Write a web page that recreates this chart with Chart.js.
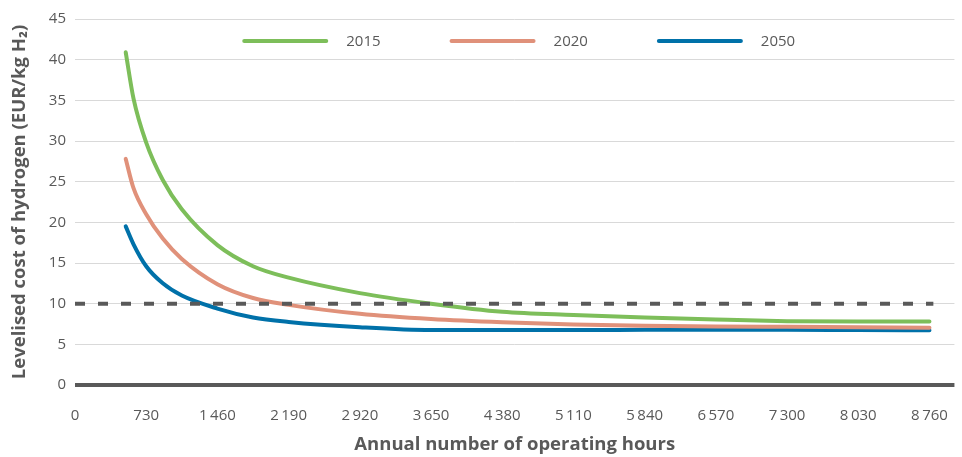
<!DOCTYPE html>
<html>
<head>
<meta charset="utf-8">
<script src="https://cdn.jsdelivr.net/npm/chart.js@4"></script>
<style>
  html, body { margin: 0; padding: 0; background: #fff; }
  #wrap { width: 962px; height: 457px; }
</style>
</head>
<body>
<div id="wrap"><canvas id="chart"></canvas></div>
<script>
// operating hours per year (x) and levelised cost EUR/kg H2 (y)
const hours = [520, 600, 730, 900, 1095, 1460, 1825, 2190, 2920, 3650, 4380, 5110, 5840, 6570, 7300, 8030, 8760];
const cost2015 = [40.9, 35.2, 29.8, 25.2, 21.6, 17.2, 14.6, 13.2, 11.3, 10.0, 9.0, 8.6, 8.3, 8.05, 7.85, 7.8, 7.8];
const cost2020 = [27.8, 24.2, 21.0, 18.0, 15.5, 12.4, 10.7, 9.85, 8.75, 8.1, 7.7, 7.45, 7.3, 7.2, 7.15, 7.1, 7.05];
const cost2050 = [19.5, 17.3, 14.6, 12.5, 11.0, 9.4, 8.3, 7.75, 7.1, 6.75, 6.75, 6.75, 6.78, 6.8, 6.8, 6.75, 6.72];
const seriesLabels = ['2015', '2020', '2050'];
const targetCost = 10;
const targetHours = [0, 8800];
const xTicks = [0, 730, 1460, 2190, 2920, 3650, 4380, 5110, 5840, 6570, 7300, 8030, 8760];
const yTicks = [0, 5, 10, 15, 20, 25, 30, 35, 40, 45];

const colors = ['#7dbe5a', '#e0917a', '#0071a9'];
const grey = '#595959';
const font = "'Open Sans', sans-serif";

const fmt = v => String(v).replace(/\B(?=(\d{3})+(?!\d))/g, '\u2009');
const toPoints = ys => hours.map((h, i) => ({ x: h, y: ys[i] }));

const datasets = [cost2015, cost2020, cost2050].map((ys, i) => ({
  label: seriesLabels[i],
  data: toPoints(ys),
  borderColor: colors[i],
  backgroundColor: colors[i],
  borderWidth: 4,
  pointRadius: 0,
  cubicInterpolationMode: 'monotone',
  borderCapStyle: 'round'
}));

datasets.unshift({
  label: 'target',
  data: targetHours.map(h => ({ x: h, y: targetCost })),
  borderColor: grey,
  borderWidth: 4,
  borderDash: [10, 13],
  pointRadius: 0
});

// legend drawn inside the plot, Excel style
const lineLegend = {
  id: 'lineLegend',
  afterDraw(chart) {
    const ctx = chart.ctx;
    const area = chart.chartArea;
    ctx.save();
    ctx.font = '15px ' + font;
    const lineW = 86, gap = 18, between = 69;
    const items = chart.data.datasets.filter(d => d.label !== 'target');
    let total = 0;
    items.forEach((d, i) => {
      total += lineW + gap + ctx.measureText(d.label).width + (i < items.length - 1 ? between : 0);
    });
    let x = (area.left + area.right) / 2 - total / 2 + 4;
    const y = 41;
    items.forEach(d => {
      ctx.strokeStyle = d.borderColor;
      ctx.lineWidth = 4;
      ctx.lineCap = 'round';
      ctx.beginPath();
      ctx.moveTo(x + 2, y);
      ctx.lineTo(x + lineW - 2, y);
      ctx.stroke();
      x += lineW + gap;
      ctx.fillStyle = grey;
      ctx.textBaseline = 'middle';
      ctx.fillText(d.label, x, y + 1);
      x += ctx.measureText(d.label).width + between;
    });
    ctx.restore();
  }
};

new Chart(document.getElementById('chart'), {
  type: 'line',
  data: { datasets },
  plugins: [lineLegend],
  options: {
    responsive: true,
    maintainAspectRatio: false,
    animation: false,
    layout: { padding: { top: 19, right: 5, left: 0, bottom: 0 } },
    plugins: { legend: { display: false }, tooltip: { enabled: false } },
    scales: {
      x: {
        type: 'linear',
        min: 0,
        max: 9016,
        afterBuildTicks: s => { s.ticks = xTicks.map(v => ({ value: v })); },
        afterFit: s => { s.height = 72; },
        grid: { display: false },
        border: { display: false },
        ticks: {
          color: grey,
          font: { family: font, size: 15 },
          padding: 14,
          maxRotation: 0,
          autoSkip: false,
          callback: v => fmt(v)
        },
        title: {
          display: true,
          text: 'Annual number of operating hours',
          color: grey,
          font: { family: font, size: 18.5, weight: 'bold' },
          padding: { top: 0, bottom: 1 }
        }
      },
      y: {
        min: 0,
        max: 45,
        afterBuildTicks: s => { s.ticks = yTicks.map(v => ({ value: v })); },
        afterFit: s => { s.width = 75; },
        border: { display: false },
        grid: {
          drawTicks: false,
          color: c => c.tick.value === 0 ? grey : '#d9d9d9',
          lineWidth: c => c.tick.value === 0 ? 4 : 1
        },
        ticks: {
          color: grey,
          font: { family: font, size: 15 },
          padding: 9
        },
        title: {
          display: true,
          text: 'Levelised cost of hydrogen (EUR/kg H\u2082)',
          color: grey,
          font: { family: font, size: 18.5, weight: 'bold' },
          padding: { top: 9, bottom: 3 }
        }
      }
    }
  }
});
</script>
</body>
</html>
